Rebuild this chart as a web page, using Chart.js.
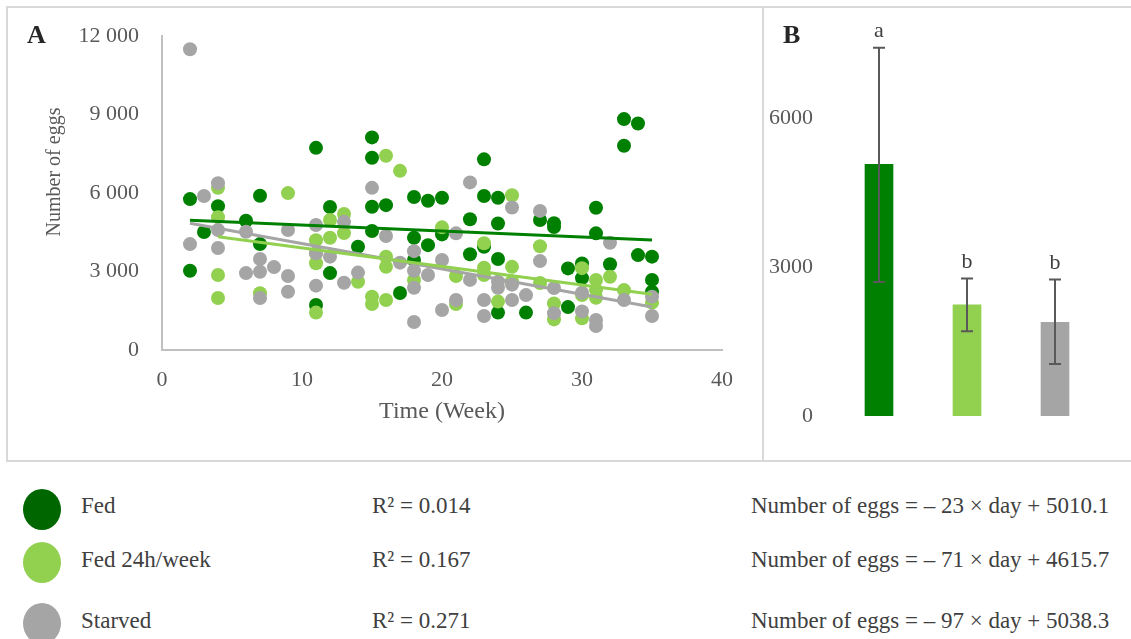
<!DOCTYPE html>
<html>
<head>
<meta charset="utf-8">
<script src="https://cdn.jsdelivr.net/npm/chart.js@4/dist/chart.umd.min.js"></script>
<style>
  body { margin: 0; background: #fff; font-family: "Liberation Serif", serif; color: #404040; }
  #page { position: relative; width: 1131px; height: 639px; overflow: hidden; }
  .frame { position: absolute; left: 6px; top: 6px; width: 1130px; height: 452px;
           border-top: 2px solid #d9d9d9; border-left: 2px solid #d9d9d9; border-bottom: 2px solid #d9d9d9; }
  .divider { position: absolute; left: 762px; top: 6px; width: 2px; height: 454px; background: #d9d9d9; }
  #chartA { position: absolute; left: 0; top: 0; }
  #chartB { position: absolute; left: 764px; top: 0; }
  .dot { position: absolute; left: 23px; width: 38px; height: 41px; border-radius: 50%; }
  .txt { position: absolute; font-size: 23px; line-height: 23px; white-space: nowrap; color: #404040; }
</style>
</head>
<body>
<div id="page">
  <div class="frame"></div>
  <div class="divider"></div>
  <canvas id="chartA" width="762" height="460"></canvas>
  <canvas id="chartB" width="367" height="460"></canvas>

  <div class="dot" style="top:489px;background:#006600"></div>
  <div class="dot" style="top:542px;background:#92d050"></div>
  <div class="dot" style="top:603px;background:#a5a5a5"></div>

  <div class="txt" style="left:81px;top:494px">Fed</div>
  <div class="txt" style="left:81px;top:548px">Fed 24h/week</div>
  <div class="txt" style="left:81px;top:609px">Starved</div>

  <div class="txt" style="left:372px;top:494px">R² = 0.014</div>
  <div class="txt" style="left:372px;top:548px">R² = 0.167</div>
  <div class="txt" style="left:372px;top:609px">R² = 0.271</div>

  <div class="txt" style="left:751px;top:494px">Number of eggs = – 23 × day + 5010.1</div>
  <div class="txt" style="left:751px;top:548px">Number of eggs = – 71 × day + 4615.7</div>
  <div class="txt" style="left:751px;top:609px">Number of eggs = – 97 × day + 5038.3</div>
</div>
<script>
Chart.defaults.font.family = '"Liberation Serif", serif';

// panel A: eggs per week, three treatments
const fedWeeks = [2,2,3,4,6,7,7,11,11,12,12,14,15,15,15,15,16,17,18,18,18,19,19,20,20,22,22,23,23,23,24,24,24,24,26,27,28,28,29,29,30,30,31,31,32,33,33,34,34,35,35,35];
const fedEggs = [5770,3030,4510,5500,4940,5900,4050,7730,1720,5470,2940,3950,8130,7350,5480,4550,5540,2180,5850,4290,3440,5710,4010,5820,4420,5000,3660,7290,5890,3950,5820,4840,3480,1430,1430,4970,4850,4700,3120,1640,3310,2750,5440,4460,3280,8830,7810,8660,3630,3570,2680,2230];

const fed24Weeks = [4,4,4,4,7,9,11,11,11,11,12,12,13,13,14,15,15,16,16,16,16,17,18,20,21,21,23,23,23,24,25,25,25,27,27,28,28,30,30,30,31,31,31,32,33,35];
const fed24Eggs = [6200,5080,2870,1990,2170,6000,4200,3700,3320,1430,4970,4290,5200,4470,2610,2040,1760,7430,3570,3180,1910,6850,2680,4690,2830,1760,4080,3150,2870,1850,5920,3180,2620,3970,2560,1780,1170,3130,2100,1210,2680,2300,2000,2800,2290,1810];

const starvedWeeks = [2,2,3,4,4,4,6,6,7,7,7,8,9,9,9,11,11,11,12,13,13,14,15,16,17,18,18,18,18,19,20,20,21,21,22,22,23,23,24,24,25,25,25,26,27,27,28,28,30,30,31,31,32,33,35,35];
const starvedEggs = [11500,4050,5890,6380,4590,3900,4520,2940,3480,2990,1990,3170,4590,2830,2230,4780,3700,2460,3570,4900,2570,2960,6200,4360,3340,3780,3030,2380,1070,2870,3440,1530,4460,1910,6410,2680,1910,1300,2610,2380,5450,2500,1910,2100,5320,3400,2370,1410,2190,1470,1150,920,4100,1910,2040,1300];

// trend line end points
const fedTrendX = [2, 35];
const fedTrendY = [4964, 4205];
const fed24TrendX = [4, 35];
const fed24TrendY = [4332, 2131];
const starvedTrendX = [2, 35];
const starvedTrendY = [4844, 1643];

const xTicks = [0, 10, 20, 30, 40];
const yTicksA = [0, 3000, 6000, 9000, 12000];

// panel B: mean eggs with error bars
const barLabels = ['Fed', 'Fed 24h/week', 'Starved'];
const barMeans = [5070, 2240, 1890];
const errHigh = [7420, 2770, 2750];
const errLow = [2700, 1710, 1050];
const sigLetters = ['a', 'b', 'b'];
const yTicksB = [0, 3000, 6000];

const DARK = '#008000', LIGHT = '#92d050', GREY = '#a5a5a5';

function pts(xs, ys) {
  return xs.map((x, i) => ({ x: x, y: ys[i] }));
}
function spaced(v) {
  return String(v).replace(/\B(?=(\d{3})+(?!\d))/g, ' ');
}

const panelText = {
  id: 'panelText',
  afterDraw(chart, args, opts) {
    const ctx = chart.ctx;
    ctx.save();
    ctx.fillStyle = '#262626';
    ctx.font = 'bold 26px "Liberation Serif"';
    ctx.textBaseline = 'alphabetic';
    ctx.textAlign = 'left';
    ctx.fillText(opts.label, opts.lx, opts.ly);
    if (opts.ytitle) {
      ctx.translate(opts.tx, opts.ty);
      ctx.rotate(-Math.PI / 2);
      ctx.fillStyle = '#595959';
      ctx.font = '20px "Liberation Serif"';
      ctx.textAlign = 'center';
      ctx.textBaseline = 'middle';
      ctx.fillText(opts.ytitle, 0, 0);
    }
    ctx.restore();
  }
};

function trend(xs, ys, color) {
  return { data: pts(xs, ys), showLine: true, pointRadius: 0, borderColor: color, borderWidth: 3, order: 0 };
}
function cloud(xs, ys, color, order) {
  return { data: pts(xs, ys), pointRadius: 7, pointBackgroundColor: color, pointBorderWidth: 0, order: order };
}

new Chart(document.getElementById('chartA'), {
  type: 'scatter',
  data: {
    datasets: [
      trend(fedTrendX, fedTrendY, DARK),
      trend(fed24TrendX, fed24TrendY, LIGHT),
      trend(starvedTrendX, starvedTrendY, GREY),
      cloud(starvedWeeks, starvedEggs, GREY, 1),
      cloud(fed24Weeks, fed24Eggs, LIGHT, 2),
      cloud(fedWeeks, fedEggs, DARK, 3)
    ]
  },
  options: {
    responsive: false,
    animation: false,
    layout: { padding: { left: 39, top: 36, right: 40, bottom: 30 } },
    plugins: {
      legend: { display: false },
      tooltip: { enabled: false },
      panelText: { label: 'A', lx: 27, ly: 43, ytitle: 'Number of eggs', tx: 55, ty: 172 }
    },
    scales: {
      x: {
        type: 'linear', min: 0, max: 40,
        afterBuildTicks: s => { s.ticks = xTicks.map(v => ({ value: v })); },
        ticks: { color: '#595959', padding: 17, font: { size: 22 } },
        grid: { display: false, drawTicks: false },
        border: { color: '#c0c0c0', width: 2 },
        title: { display: true, text: 'Time (Week)', color: '#595959', font: { size: 24 }, padding: { top: 4, bottom: 4 } },
        afterFit: s => { s.height = 80; }
      },
      y: {
        min: 0, max: 12000,
        afterBuildTicks: s => { s.ticks = yTicksA.map(v => ({ value: v })); },
        ticks: { color: '#595959', padding: 23, font: { size: 22 }, callback: v => spaced(v) },
        grid: { display: false, drawTicks: false },
        border: { color: '#c0c0c0', width: 2 },
        afterFit: s => { s.width = 123; }
      }
    }
  },
  plugins: [panelText]
});

const errorBars = {
  id: 'errorBars',
  afterDatasetsDraw(chart) {
    const meta = chart.getDatasetMeta(0);
    const y = chart.scales.y;
    const ctx = chart.ctx;
    ctx.save();
    meta.data.forEach((bar, i) => {
      const top = y.getPixelForValue(errHigh[i]);
      const bot = y.getPixelForValue(errLow[i]);
      ctx.strokeStyle = '#595959';
      ctx.lineWidth = 2;
      ctx.beginPath();
      ctx.moveTo(bar.x, top); ctx.lineTo(bar.x, bot);
      ctx.moveTo(bar.x - 6, top); ctx.lineTo(bar.x + 6, top);
      ctx.moveTo(bar.x - 6, bot); ctx.lineTo(bar.x + 6, bot);
      ctx.stroke();
      ctx.fillStyle = '#404040';
      ctx.font = '22px "Liberation Serif"';
      ctx.textAlign = 'center';
      ctx.textBaseline = 'alphabetic';
      ctx.fillText(sigLetters[i], bar.x, top - 11);
    });
    ctx.restore();
  }
};

new Chart(document.getElementById('chartB'), {
  type: 'bar',
  data: {
    labels: barLabels,
    datasets: [{
      data: barMeans,
      backgroundColor: [DARK, LIGHT, GREY],
      barThickness: 28
    }]
  },
  options: {
    responsive: false,
    animation: false,
    layout: { padding: { left: 0, top: 19, right: 32, bottom: 44 } },
    plugins: {
      legend: { display: false },
      tooltip: { enabled: false },
      panelText: { label: 'B', lx: 19, ly: 43 }
    },
    scales: {
      x: { display: false },
      y: {
        min: 0, max: 8000,
        afterBuildTicks: s => { s.ticks = yTicksB.map(v => ({ value: v })); },
        ticks: { color: '#595959', padding: 22, font: { size: 22 }, callback: v => String(v) },
        grid: { display: false, drawTicks: false },
        border: { display: false },
        // top label sits well below the max, so it needs no room above the plot
        afterFit: s => { s.width = 71; s.paddingTop = 0; }
      }
    }
  },
  plugins: [errorBars, panelText]
});
</script>
</body>
</html>
